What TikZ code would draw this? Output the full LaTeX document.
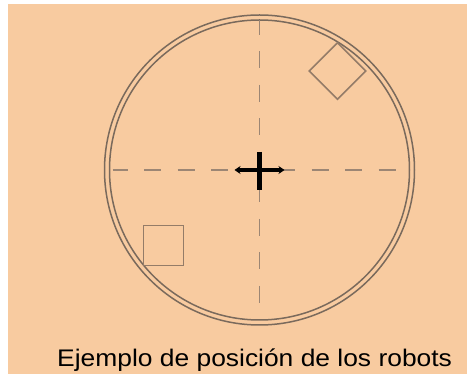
\documentclass[tikz,border=0pt]{standalone}
\usepackage{fontspec}
\setmainfont{Liberation Sans}
\usetikzlibrary{arrows.meta}
\definecolor{bg}{HTML}{F8CBA0}
\definecolor{ring}{HTML}{7A6A5C}
\definecolor{robot}{HTML}{947C68}
\definecolor{dash}{HTML}{9C8674}
\tikzset{
  ringline/.style={draw=ring, line width=1.5pt},
  robotbox/.style={draw=robot, line width=1.6pt, minimum size=40pt, inner sep=0pt, shape=rectangle},
  axis/.style={draw=dash, line width=1.8pt, dash pattern=on 17pt off 16.5pt},
}
\begin{document}
\begin{tikzpicture}[x=1pt,y=1pt]
\useasboundingbox (0,0) rectangle (467,375);
\fill[white] (0,0) rectangle (467,375);
\fill[bg] (7.5,1) rectangle (467,371);
\coordinate (c) at (259.5,205);
% rings
\draw[ringline] (c) circle (155);
\draw[ringline] (c) circle (150);
% dashed axes
\coordinate (hl) at (112.5,205);
\coordinate (hr) at (407,205);
\coordinate (vt) at (259.5,355);
\coordinate (vb) at (259.5,58);
\draw[axis, dash phase=2pt] (hl) -- (hr);
\draw[axis, dash phase=2pt] (vt) -- (vb);
% robots
\node[robotbox] (r1) at (163.5,129.5) {};
\node[robotbox, rotate=45] (r2) at (337.5,304) {};
% centre mark
\coordinate (cv1) at (259.5,223);
\coordinate (cv2) at (259.5,185);
\coordinate (ch1) at (234.5,205);
\coordinate (ch2) at (284.5,205);
\draw[black, line width=5.5pt] (cv1) -- (cv2);
\draw[black, line width=3.2pt, {Stealth[length=6pt,width=8pt]}-{Stealth[length=6pt,width=8pt]}] (ch1) -- (ch2);
% caption
\node[anchor=base west, inner sep=0pt, xscale=1.1, font=\fontsize{24}{28}\selectfont] (cap) at (57,8.3) {Ejemplo de posición de los robots};
\end{tikzpicture}
\end{document}
